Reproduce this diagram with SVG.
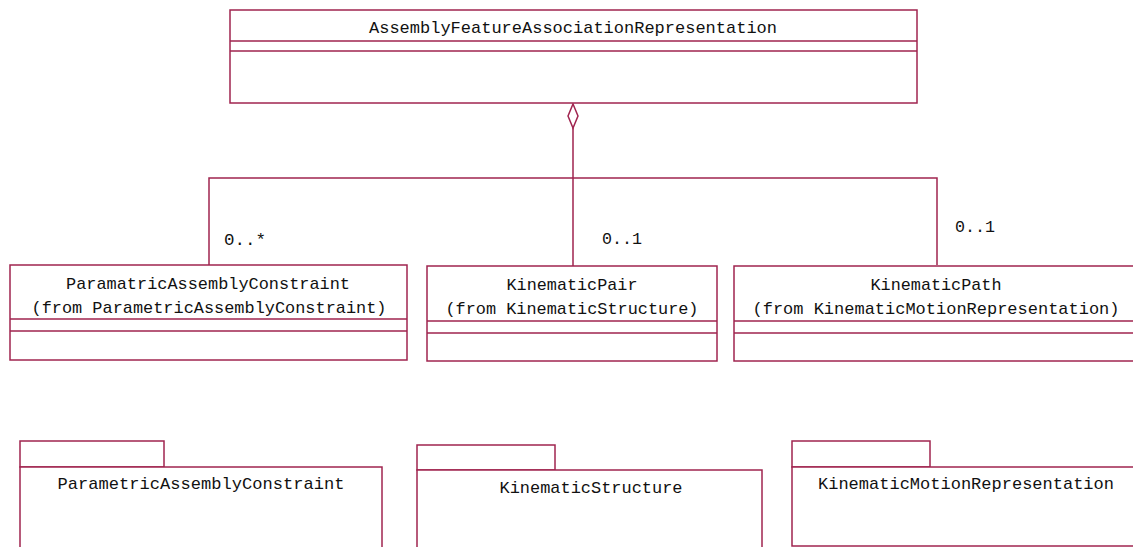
<svg xmlns="http://www.w3.org/2000/svg" width="1133" height="547" viewBox="0 0 1133 547">
<style>
.b{fill:#fff;stroke:#a0244f;stroke-width:1.5}
.l{fill:none;stroke:#a0244f;stroke-width:1.5}
.t{font-family:"Liberation Mono",monospace;font-size:17px;fill:#111;text-anchor:middle}
.m{font-family:"Liberation Mono",monospace;font-size:17px;fill:#111}
</style>
<rect width="1133" height="547" fill="#fff"/>
<g id="connectors">
<path class="l" d="M573,128 V178 M209,265 V178 H937 V265 M573,178 V266"/>
<path class="l" d="M573,104 L578,116 L573,128 L568,116 Z" fill="#fff"/>
<text class="m" x="224" y="245" textLength="42" lengthAdjust="spacingAndGlyphs">0..*</text>
<text class="m" x="602" y="244" textLength="40" lengthAdjust="spacingAndGlyphs">0..1</text>
<text class="m" x="955" y="232" textLength="40" lengthAdjust="spacingAndGlyphs">0..1</text>
</g>
<g id="AssemblyFeatureAssociationRepresentation">
<rect class="b" x="230" y="10" width="687" height="93"/>
<path class="l" d="M230,41 H917 M230,51 H917"/>
<text class="t" x="573" y="33" textLength="408" lengthAdjust="spacingAndGlyphs">AssemblyFeatureAssociationRepresentation</text>
</g>
<g id="ParamatricAssemblyConstraint">
<rect class="b" x="10" y="265" width="397" height="95"/>
<path class="l" d="M10,319 H407 M10,331 H407"/>
<text class="t" x="208" y="289" textLength="284" lengthAdjust="spacingAndGlyphs">ParamatricAssemblyConstraint</text>
<text class="t" x="209" y="313" textLength="355" lengthAdjust="spacingAndGlyphs">(from ParametricAssemblyConstraint)</text>
</g>
<g id="KinematicPair">
<rect class="b" x="427" y="266" width="290" height="95"/>
<path class="l" d="M427,321 H717 M427,333 H717"/>
<text class="t" x="572" y="290" textLength="131" lengthAdjust="spacingAndGlyphs">KinematicPair</text>
<text class="t" x="572" y="314" textLength="253" lengthAdjust="spacingAndGlyphs">(from KinematicStructure)</text>
</g>
<g id="KinematicPath">
<rect class="b" x="734" y="266" width="404" height="95"/>
<path class="l" d="M734,321 H1138 M734,333 H1138"/>
<text class="t" x="936" y="290" textLength="131" lengthAdjust="spacingAndGlyphs">KinematicPath</text>
<text class="t" x="936" y="314" textLength="367" lengthAdjust="spacingAndGlyphs">(from KinematicMotionRepresentation)</text>
</g>
<g id="pkg-ParametricAssemblyConstraint">
<rect class="b" x="20" y="441" width="144" height="26"/>
<rect class="b" x="20" y="467" width="362" height="90"/>
<text class="t" x="201" y="489" textLength="287" lengthAdjust="spacingAndGlyphs">ParametricAssemblyConstraint</text>
</g>
<g id="pkg-KinematicStructure">
<rect class="b" x="417" y="445" width="138" height="25"/>
<rect class="b" x="417" y="470" width="345" height="90"/>
<text class="t" x="591" y="493" textLength="183" lengthAdjust="spacingAndGlyphs">KinematicStructure</text>
</g>
<g id="pkg-KinematicMotionRepresentation">
<rect class="b" x="792" y="441" width="138" height="26"/>
<rect class="b" x="792" y="467" width="346" height="79"/>
<text class="t" x="966" y="489" textLength="296" lengthAdjust="spacingAndGlyphs">KinematicMotionRepresentation</text>
</g>
</svg>
